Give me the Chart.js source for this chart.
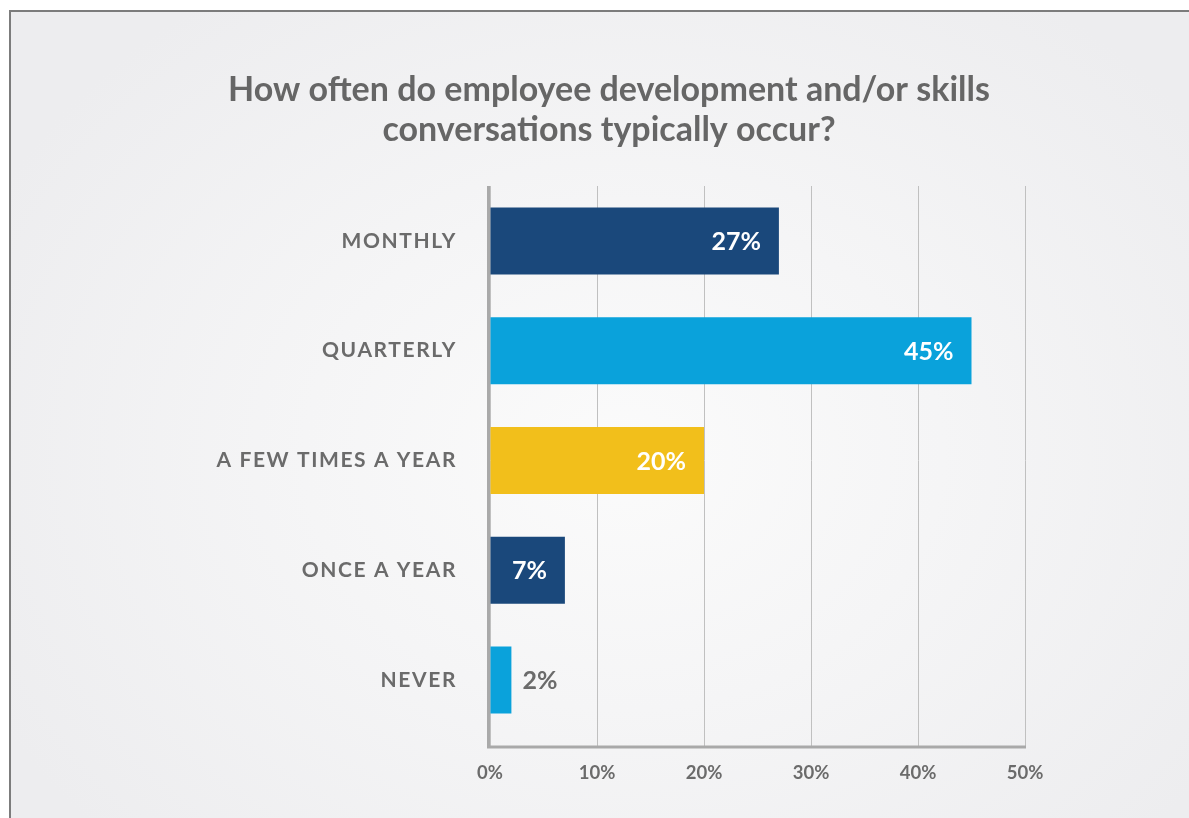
<!DOCTYPE html>
<html>
<head>
<meta charset="utf-8">
<script src="https://cdn.jsdelivr.net/npm/chart.js@4"></script>
<style>
  html, body { margin: 0; padding: 0; background: #ffffff; }
  body { width: 1189px; height: 818px; position: relative; overflow: hidden; }
  .panel {
    position: absolute; left: 9px; top: 10px; right: 0; bottom: 0;
    border-left: 2px solid #7c7c7c; border-top: 2px solid #7c7c7c;
    background: radial-gradient(ellipse 60% 70% at 52% 55%, #fbfbfb 0%, #f5f5f6 45%, #ededef 100%);
  }
  #chart { position: absolute; left: 0; top: 0; }
</style>
</head>
<body>
<div class="panel"></div>
<canvas id="chart" width="1189" height="818"></canvas>
<script>
// survey answers, share of respondents in percent
const categories = ['MONTHLY', 'QUARTERLY', 'A FEW TIMES A YEAR', 'ONCE A YEAR', 'NEVER'];
const shares = [27, 45, 20, 7, 2];
const xTicks = [0, 10, 20, 30, 40, 50];
const titleLines = ['How often do employee development and/or skills', 'conversations typically occur?'];

const barColors = ['#1a487b', '#0aa2db', '#f2bf1b', '#1a487b', '#0aa2db'];
const textGray = '#6b6b6b';

Chart.defaults.font.family = 'Lato';

// tracked-out category labels: wrap the y scale's label drawing
const trackedLabels = {
  id: 'trackedLabels',
  beforeDraw(chart) {
    const scale = chart.scales.y;
    if (scale._tracked) return;
    const draw = scale.drawLabels;
    scale.drawLabels = function (area) {
      const ctx = this.ctx;
      ctx.save();
      ctx.letterSpacing = '1.6px';
      draw.call(this, area);
      ctx.restore();
    };
    scale._tracked = true;
  }
};

// L-shaped axis frame; it runs a bit below the last bar band
const axisFrame = {
  id: 'axisFrame',
  afterDatasetsDraw(chart) {
    const { ctx, chartArea, scales } = chart;
    const x0 = scales.x.getPixelForValue(xTicks[0]);
    const x1 = scales.x.getPixelForValue(xTicks[xTicks.length - 1]);
    const bottom = chartArea.bottom + 12;
    ctx.save();
    ctx.strokeStyle = '#a9a9a9';
    ctx.lineWidth = 3;
    ctx.beginPath();
    ctx.moveTo(x0 - 1.5, chartArea.top);
    ctx.lineTo(x0 - 1.5, bottom);
    ctx.lineTo(x1 + 1, bottom);
    ctx.stroke();
    ctx.restore();
  }
};

// percent labels at the end of each bar
const valueLabels = {
  id: 'valueLabels',
  afterDatasetsDraw(chart) {
    const { ctx } = chart;
    const meta = chart.getDatasetMeta(0);
    ctx.save();
    ctx.font = 'bold 25px Lato';
    ctx.textBaseline = 'middle';
    meta.data.forEach((bar, i) => {
      const v = shares[i];
      const label = v + '%';
      if (v < 5) {
        ctx.fillStyle = textGray;
        ctx.textAlign = 'left';
        ctx.fillText(label, bar.x + 11, bar.y + 1);
      } else {
        ctx.fillStyle = '#ffffff';
        ctx.textAlign = 'right';
        ctx.fillText(label, bar.x - 18, bar.y + 1);
      }
    });
    ctx.restore();
  }
};

new Chart(document.getElementById('chart'), {
  type: 'bar',
  data: {
    labels: categories,
    datasets: [{
      data: shares,
      backgroundColor: barColors,
      borderWidth: 0,
      barPercentage: 0.61,
      categoryPercentage: 1
    }]
  },
  options: {
    indexAxis: 'y',
    responsive: false,
    animation: false,
    layout: { padding: { left: 193, right: 164, top: 0, bottom: 0 } },
    plugins: {
      legend: { display: false },
      tooltip: { enabled: false },
      title: {
        display: true,
        text: titleLines,
        color: '#666666',
        font: { size: 34, weight: 'bold', lineHeight: 40 / 34 },
        padding: { top: 70, bottom: 36 }
      }
    },
    scales: {
      x: {
        min: 0,
        max: 50,
        afterFit(scale) { scale.height = 83; },
        afterBuildTicks(scale) { scale.ticks = xTicks.map(v => ({ value: v })); },
        border: { display: false },
        grid: { color: '#c0c0c0', lineWidth: 1, drawTicks: true, tickLength: 12, tickColor: '#c0c0c0' },
        ticks: {
          padding: 15,
          color: textGray,
          font: { size: 18.5, weight: 'bold' },
          callback: v => v + '%'
        }
      },
      y: {
        afterFit(scale) { scale.width = 297; },
        border: { display: false },
        grid: { display: false, drawTicks: false },
        ticks: {
          padding: 33,
          color: textGray,
          font: { size: 21, weight: 'bold' }
        }
      }
    }
  },
  plugins: [trackedLabels, axisFrame, valueLabels]
});
</script>
</body>
</html>
